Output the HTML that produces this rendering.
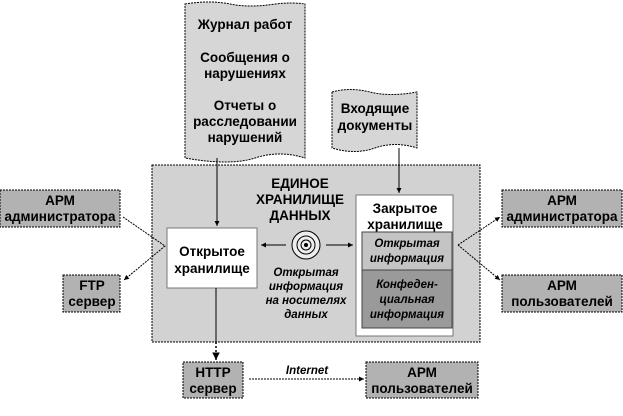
<!DOCTYPE html>
<html><head><meta charset="utf-8"><style>
body{margin:0;background:#fff}
svg text{font-family:"Liberation Sans",sans-serif;font-weight:bold;font-size:13.5px;fill:#000}
.i{font-style:italic;font-size:11.5px}
</style></head><body>
<svg width="623" height="411" viewBox="0 0 623 411" xmlns="http://www.w3.org/2000/svg">
<defs>
<marker id="a" markerWidth="6" markerHeight="6" refX="5" refY="3" orient="auto"><path d="M0,0.5 L5,3 L0,5.5 z" fill="#000"/></marker>
</defs>
<rect x="152" y="165" width="328" height="177" fill="#d2d2d2" stroke="#000" stroke-dasharray="2,1"/>
<path d="M185,4 Q210,0 230,4 T275,4 Q292,2 305,4 L305,158 Q280,150 255,158 T185,158 Z" fill="#d6d6d6" stroke="#000" stroke-dasharray="2,1"/>
<text x="245" y="29" text-anchor="middle">Журнал работ</text>
<text x="245" y="62" text-anchor="middle">Сообщения о</text>
<text x="245" y="78" text-anchor="middle">нарушениях</text>
<text x="245" y="110" text-anchor="middle">Отчеты о</text>
<text x="245" y="126" text-anchor="middle">расследовании</text>
<text x="245" y="142" text-anchor="middle">нарушений</text>
<path d="M332,92 Q350,87 370,92 T417,92 L417,148 Q395,141 375,148 T332,148 Z" fill="#d6d6d6" stroke="#000" stroke-dasharray="2,1"/>
<text x="375" y="113" text-anchor="middle">Входящие</text>
<text x="375" y="130" text-anchor="middle">документы</text>
<text x="300" y="188" text-anchor="middle" font-size="14.5">ЕДИНОЕ</text>
<text x="300" y="204" text-anchor="middle" font-size="14.5">ХРАНИЛИЩЕ</text>
<text x="300" y="220" text-anchor="middle" font-size="14.5">ДАННЫХ</text>
<rect x="167" y="228" width="90" height="60" fill="#fff" stroke="#777"/>
<text x="212" y="256" text-anchor="middle">Открытое</text>
<text x="212" y="273" text-anchor="middle">хранилище</text>
<circle cx="306" cy="245" r="14" fill="#eee" stroke="#000"/>
<circle cx="306" cy="245" r="9" fill="none" stroke="#000"/>
<circle cx="306" cy="245" r="5" fill="none" stroke="#000"/>
<circle cx="306" cy="245" r="2" fill="#000"/>
<line x1="286" y1="245" x2="261" y2="245" stroke="#000" marker-end="url(#a)"/>
<line x1="326" y1="245" x2="353" y2="245" stroke="#000" marker-end="url(#a)"/>
<text class="i" x="306" y="276" text-anchor="middle">Открытая</text>
<text class="i" x="306" y="290" text-anchor="middle">информация</text>
<text class="i" x="306" y="304" text-anchor="middle">на носителях</text>
<text class="i" x="306" y="318" text-anchor="middle">данных</text>
<rect x="356" y="195" width="97" height="141" fill="#fff" stroke="#777"/>
<text x="405" y="213" text-anchor="middle">Закрытое</text>
<text x="405" y="229" text-anchor="middle">хранилище</text>
<rect x="362" y="232" width="90" height="38" fill="#c4c4c4" stroke="#444"/>
<rect x="362" y="270" width="90" height="58" fill="#9a9a9a" stroke="#444"/>
<text class="i" x="407" y="247" text-anchor="middle" font-size="12">Открытая</text>
<text class="i" x="407" y="262" text-anchor="middle" font-size="12">информация</text>
<text class="i" x="407" y="288" text-anchor="middle" font-size="12">Конфеден-</text>
<text class="i" x="407" y="303" text-anchor="middle" font-size="12">циальная</text>
<text class="i" x="407" y="318" text-anchor="middle" font-size="12">информация</text>
<line x1="217" y1="158" x2="217" y2="226" stroke="#000" marker-end="url(#a)"/>
<line x1="399" y1="148" x2="399" y2="193" stroke="#000" marker-end="url(#a)"/>
<line x1="216" y1="288" x2="216" y2="342" stroke="#000"/>
<line x1="216" y1="342" x2="216" y2="360" stroke="#000" stroke-width="1.5" stroke-dasharray="2,2" marker-end="url(#a)"/>
<rect x="0" y="190" width="120" height="37" fill="#b2b2b2" stroke="#000" stroke-dasharray="2,1"/>
<text x="60" y="205" text-anchor="middle">АРМ</text>
<text x="60" y="221" text-anchor="middle">администратора</text>
<rect x="63" y="275" width="57" height="37" fill="#b2b2b2" stroke="#000" stroke-dasharray="2,1"/>
<text x="92" y="290" text-anchor="middle">FTP</text>
<text x="92" y="306" text-anchor="middle">сервер</text>
<polyline points="123,217 165,246 124,280" fill="none" stroke="#000" stroke-dasharray="2,1" marker-end="url(#a)"/>
<rect x="502" y="190" width="120" height="37" fill="#b2b2b2" stroke="#000" stroke-dasharray="2,1"/>
<text x="562" y="205" text-anchor="middle">АРМ</text>
<text x="562" y="221" text-anchor="middle">администратора</text>
<rect x="502" y="275" width="120" height="37" fill="#b2b2b2" stroke="#000" stroke-dasharray="2,1"/>
<text x="562" y="290" text-anchor="middle">АРМ</text>
<text x="562" y="306" text-anchor="middle">пользователей</text>
<line x1="458" y1="245" x2="500" y2="217" stroke="#000" stroke-dasharray="2,1" marker-end="url(#a)"/>
<line x1="458" y1="245" x2="500" y2="280" stroke="#000" stroke-dasharray="2,1" marker-end="url(#a)"/>
<rect x="183" y="362" width="60" height="36" fill="#b2b2b2" stroke="#000" stroke-dasharray="2,1"/>
<text x="213" y="377" text-anchor="middle">HTTP</text>
<text x="213" y="393" text-anchor="middle">сервер</text>
<rect x="366" y="362" width="112" height="36" fill="#b2b2b2" stroke="#000" stroke-dasharray="2,1"/>
<text x="422" y="377" text-anchor="middle">АРМ</text>
<text x="422" y="393" text-anchor="middle">пользователей</text>
<line x1="249" y1="379" x2="364" y2="379" stroke="#000" stroke-dasharray="2,1" marker-end="url(#a)"/>
<text class="i" x="307" y="374" text-anchor="middle" font-weight="normal">Internet</text>
</svg>
</body></html>
